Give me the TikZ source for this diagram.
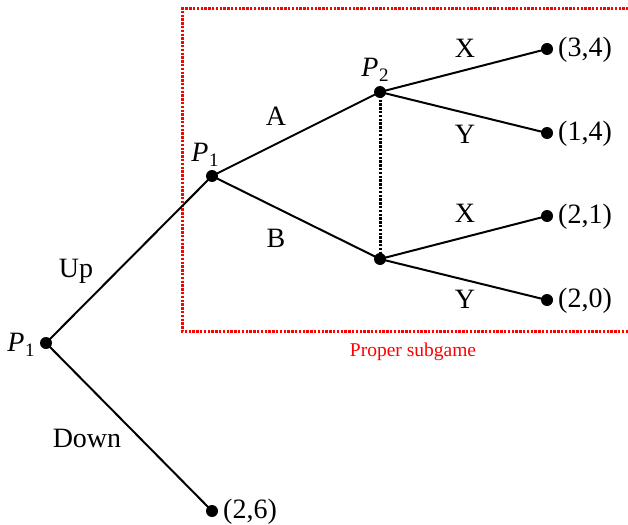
\documentclass[tikz,border=0pt]{standalone}
\usepackage{fontspec}
\setmainfont{Liberation Serif}
\newcommand{\plab}[1]{\textit{P}\kern0.5pt\raisebox{-5pt}{\fontsize{19}{21}\selectfont #1}}
\begin{document}
\begin{tikzpicture}[x=1pt,y=-1pt,
  dec/.style={circle,fill=black,inner sep=0pt,minimum size=12pt},
  edge/.style={line width=2pt},
  lbl/.style={font=\fontsize{28}{31}\selectfont,inner sep=0pt},
  pay/.style={font=\fontsize{28}{31}\selectfont,inner sep=0pt,anchor=west},
  info/.style={line width=3pt,dash pattern=on 2.4pt off 1.4pt},
  sub/.style={draw=red,line width=3pt,dash pattern=on 2.4pt off 1.4pt}]
\useasboundingbox (0,0) rectangle (628,524);
% subgame frame
\coordinate (fr1) at (640,9);
\coordinate (fr2) at (182,9);
\coordinate (fr3) at (182,331);
\coordinate (fr4) at (640,331);
\draw[sub] (fr1) -- (fr2) -- (fr3) -- (fr4);
\node[font=\fontsize{19.5}{22}\selectfont,text=red,inner sep=0pt] (psub) at (413,352) {Proper subgame};
% nodes
\node[dec] (r) at (46,343) {};
\node[dec] (p1) at (212,176) {};
\node[dec] (p2a) at (380,92) {};
\node[dec] (p2b) at (380,259) {};
\node[dec] (t1) at (547,49) {};
\node[dec] (t2) at (547,133) {};
\node[dec] (t3) at (547,216) {};
\node[dec] (t4) at (547,300) {};
\node[dec] (t5) at (212,511) {};
% player labels
\node[lbl] (lr) at (21,345) {\plab{1}};
\node[lbl] (lp1) at (205,155) {\plab{1}};
\node[lbl] (lp2) at (375,70) {\plab{2}};
% edges
\draw[edge] (r.center) -- (p1.center);
\draw[edge] (r.center) -- (t5.center);
\draw[edge] (p1.center) -- (p2a.center);
\draw[edge] (p1.center) -- (p2b.center);
\draw[edge] (p2a.center) -- (t1.center);
\draw[edge] (p2a.center) -- (t2.center);
\draw[edge] (p2b.center) -- (t3.center);
\draw[edge] (p2b.center) -- (t4.center);
\draw[info] (p2a.center) -- (p2b.center);
% action labels
\node[lbl] (up) at (76,271) {Up};
\node[lbl] (down) at (87,438) {Down};
\node[lbl] (a) at (276,116) {A};
\node[lbl] (b) at (276,238) {B};
\node[lbl] (x1) at (465,48) {X};
\node[lbl] (y1) at (465,134) {Y};
\node[lbl] (x2) at (465,213) {X};
\node[lbl] (y2) at (465,299) {Y};
% payoffs
\node[pay] (pay1) at (558,50) {(3,4)};
\node[pay] (pay2) at (558,134) {(1,4)};
\node[pay] (pay3) at (558,217) {(2,1)};
\node[pay] (pay4) at (558,301) {(2,0)};
\node[pay] (pay5) at (223,512) {(2,6)};
\end{tikzpicture}
\end{document}
